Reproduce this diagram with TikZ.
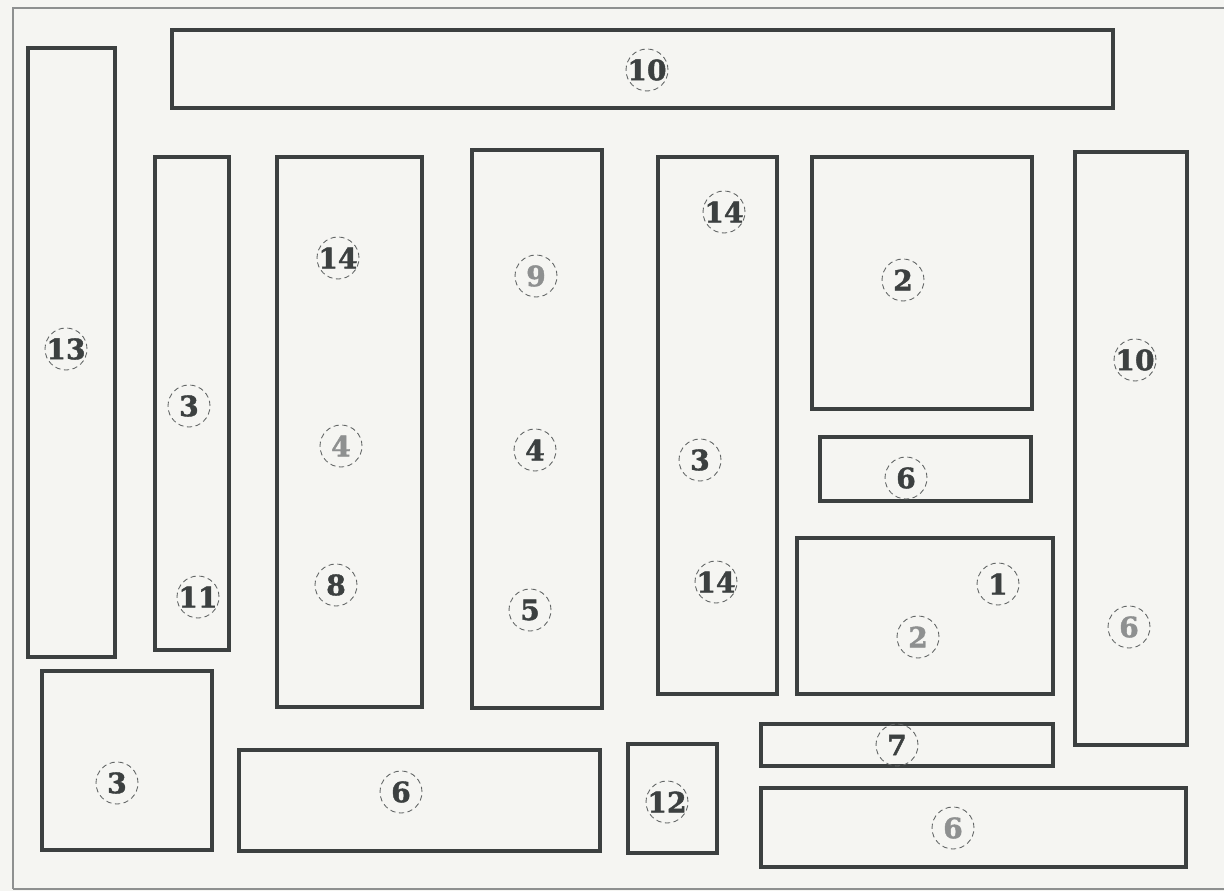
\documentclass[tikz,border=0pt]{standalone}
\usepackage{fontspec}
\newfontfamily\numfont[FakeBold=1.5]{DejaVu Serif Bold}
\definecolor{paper}{HTML}{F5F5F2}
\definecolor{ink}{HTML}{3C4040}
\definecolor{pale}{HTML}{8E9090}

\begin{document}
\begin{tikzpicture}[x=0.02cm,y=-0.02cm,
    box/.style={draw=ink, line width=1.9pt},
    num/.style={circle, draw=ink!80, densely dashed, line width=0.5pt, minimum size=0.84cm,
                inner sep=-5pt, font=\numfont\fontsize{16}{16}\selectfont, text=ink},
    numpale/.style={num, text=pale}]
                % Hintergrund und Rahmen
                \fill[paper] (0,0) rectangle (1224,891);
                \useasboundingbox (0,0) rectangle (1224,891);
                \draw[pale, line width=0.6pt] (13,889) -- (13,8) -- (1224,8);
                \draw[pale, line width=0.6pt] (13,889) -- (1224,889);

                % Flächen (obere Reihe)
                \draw[box] (172,30) rectangle (1113,108);
                \draw[box] (28,48) rectangle (115,657);
                \draw[box] (155,157) rectangle (229,650);
                \draw[box] (277,157) rectangle (422,707);
                \draw[box] (472,150) rectangle (602,708);
                \draw[box] (658,157) rectangle (777,694);
                \draw[box] (812,157) rectangle (1032,409);
                \draw[box] (820,437) rectangle (1031,501);
                \draw[box] (797,538) rectangle (1053,694);
                \draw[box] (1075,152) rectangle (1187,745);

                % Flächen (untere Reihe)
                \draw[box] (42,671) rectangle (212,850);
                \draw[box] (239,750) rectangle (600,851);
                \draw[box] (628,744) rectangle (717,853);
                \draw[box] (761,724) rectangle (1053,766);
                \draw[box] (761,788) rectangle (1186,867);

                % Nummern
                \node[num] (n10a) at (647,70) {10};
                \node[num] (n13) at (66,349) {13};
                \node[num] (n3a) at (189,406) {3};
                \node[num] (n11) at (198,597) {11};
                \node[num] (n14a) at (338,258) {14};
                \node[numpale] (n4a) at (341,446) {4};
                \node[num] (n8) at (336,585) {8};
                \node[numpale] (n9) at (536,276) {9};
                \node[num] (n4b) at (535,450) {4};
                \node[num] (n5) at (530,610) {5};
                \node[num] (n14b) at (724,212) {14};
                \node[num] (n3b) at (700,460) {3};
                \node[num] (n14c) at (716,582) {14};
                \node[num] (n2a) at (903,280) {2};
                \node[num] (n6a) at (906,478) {6};
                \node[num] (n1) at (998,584) {1};
                \node[numpale] (n2b) at (918,637) {2};
                \node[num] (n10b) at (1135,360) {10};
                \node[numpale] (n6b) at (1129,627) {6};
                \node[num] (n7) at (897,745) {7};
                \node[num] (n3c) at (117,783) {3};
                \node[num] (n6c) at (401,792) {6};
                \node[num] (n12) at (667,802) {12};
                \node[numpale] (n6d) at (953,828) {6};
            \end{tikzpicture}
\end{document}
